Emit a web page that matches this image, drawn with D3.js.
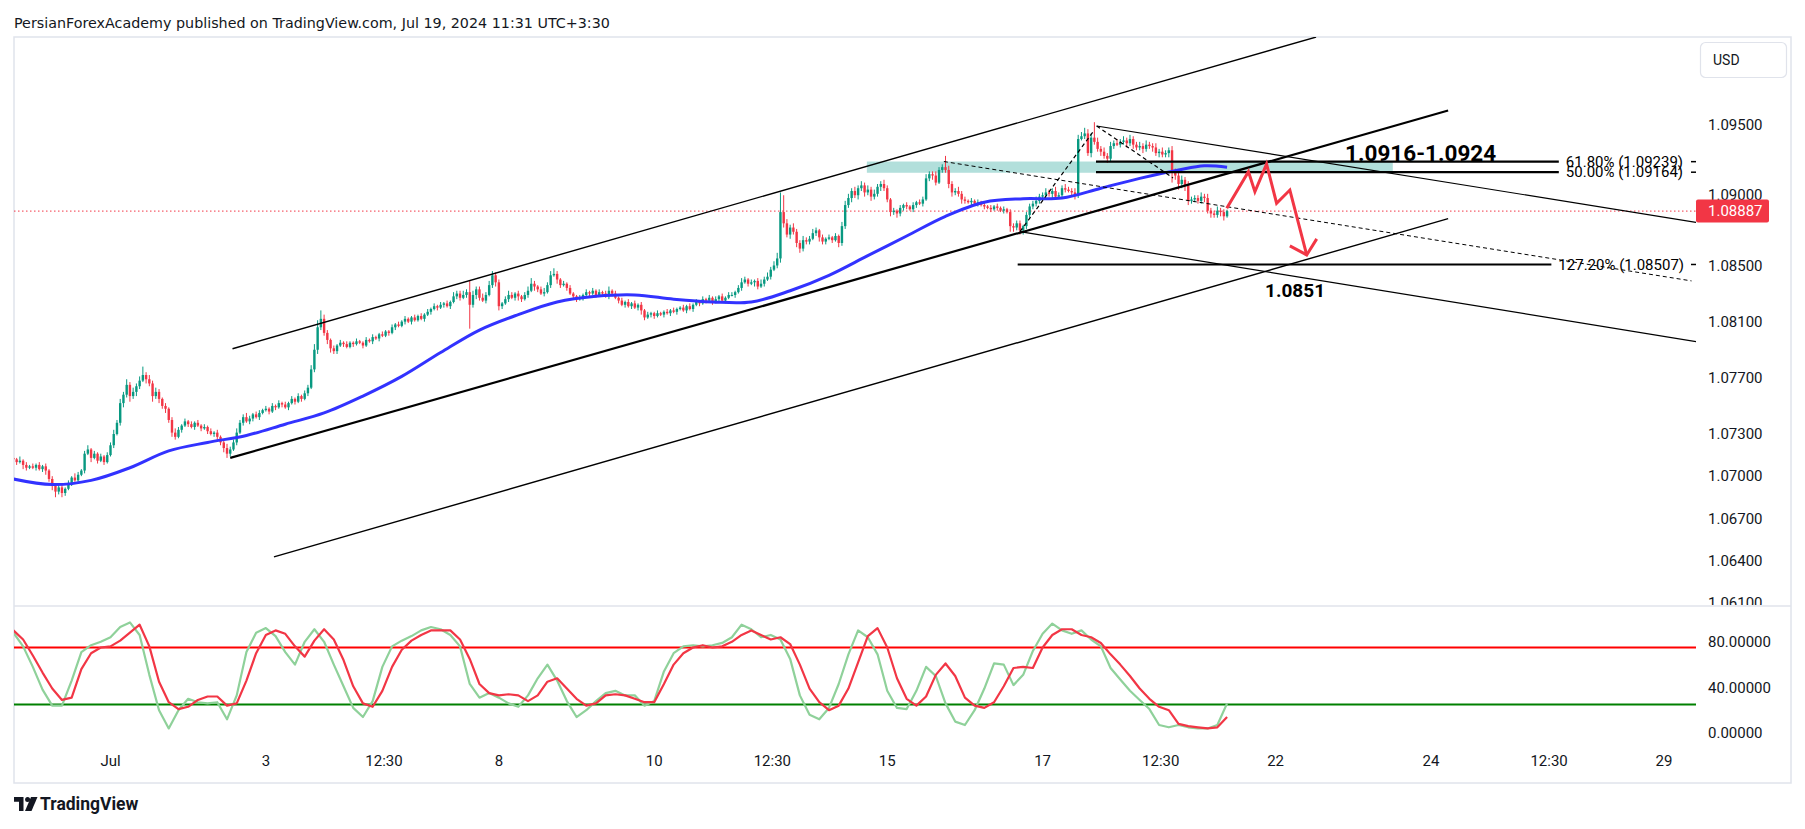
<!DOCTYPE html>
<html>
<head>
<meta charset="utf-8">
<script src="https://cdn.jsdelivr.net/npm/d3@7"></script>
<style>
  body { margin: 0; background: #fff; }
  svg { display: block; }
  text { font-family: Roboto, "Noto Sans", sans-serif; fill: #131722; }
</style>
</head>
<body>
<svg id="chart" width="1805" height="829"></svg>
<script>
// EURUSD 1h, Jun 27 18:00 .. Jul 19 09:00 (hour index 0 = Jul 1 00:00, trading hours only)
// prices in pips above 1.0000
const firstIndex = -30;
const firstOpen = 713;

const closeWeek0 = [
  712,710,711,708,706,707,
  706,708,705,707,704,698,693,689,692,688,691,695,699,697,701,704,716,719,713,716,711,714,710,715
];
const closeWeek1 = [
  722,730,738,752,758,765,757,760,764,768,772,769,766,757,760,755,750,748,740,731,728,733,736,739,
  737,735,738,736,734,735,732,730,731,728,724,720,716,719,724,731,738,742,739,741,744,742,745,747,
  748,746,750,749,752,751,749,752,755,753,757,755,759,763,776,790,806,812,802,797,791,789,793,795,
  794,792,795,794,796,795,793,797,796,799,798,801,800,803,802,806,808,807,810,812,810,813,811,814,
  812,815,817,819,821,820,822,823,821,824,828,830,827,829,831,822,829,833,827,825,829,836,843,838
];
const closeWeek2 = [
  821,823,826,829,827,830,828,826,829,832,837,835,833,830,831,836,843,844,840,836,837,834,830,828,
  826,827,829,831,830,832,829,831,830,828,832,830,827,825,822,824,821,823,820,822,818,813,815,816,
  814,816,815,817,816,818,817,819,820,818,821,819,822,824,823,826,825,827,824,826,828,825,827,829,
  829,831,834,838,840,837,838,839,835,837,840,842,847,850,855,888,880,872,877,874,866,862,868,867,
  869,873,875,870,867,869,870,868,871,866,878,893,898,903,900,905,907,902,904,899,901,906,908,905
];
const closeWeek3 = [
  897,888,889,887,891,893,892,890,893,895,894,897,912,915,914,909,918,920,918,908,902,903,901,897,
  896,895,896,894,895,893,892,891,890,892,891,889,890,888,878,877,880,875,878,886,892,894,896,899,
  900,902,901,903,899,900,905,904,903,902,900,940,942,944,930,941,938,933,931,928,926,935,937,936,
  938,939,937,940,936,934,935,933,936,935,934,930,931,929,930,932,917,914,908,911,907,896,897,898,
  896,899,898,889,887,886,889,888,885,888.7
];

// wick length above / below the body, pips
const wickUpWeek0 = [2,1,3,1,2,1, 2,1,2,1,2,1,2,1,3,2,1,2,1,3,2,1,2,3,1,2,1,2,1,2];
const wickDnWeek0 = [1,2,1,3,2,1, 1,2,1,2,3,2,3,4,2,3,2,1,2,1,2,1,2,1,3,1,2,1,2,1];
const wickUpWeek1 = [
  2,3,2,3,2,4,2,3,2,3,6,2,3,2,3,2,1,2,1,2,3,2,1,2,
  1,2,1,2,1,2,1,2,1,2,1,2,3,2,2,3,2,2,3,2,1,2,2,1,
  2,1,2,1,2,1,2,1,2,1,2,1,2,2,3,4,5,6,3,2,1,2,1,2,
  1,2,1,1,2,1,1,2,1,2,1,1,2,1,1,2,1,2,1,2,1,1,2,1,
  2,1,2,1,2,1,2,1,2,1,3,2,2,3,2,8,3,2,2,3,2,3,3,2
];
const wickDnWeek1 = [
  1,2,1,2,3,2,4,2,3,2,1,3,2,4,2,3,2,3,2,3,2,1,2,1,
  2,1,2,1,2,1,2,1,2,3,2,3,3,2,1,2,1,2,1,2,2,1,2,1,
  1,2,1,2,1,2,1,2,1,2,1,2,1,2,1,2,3,2,2,3,3,2,2,1,
  2,1,1,2,1,1,2,1,1,2,1,2,1,1,2,1,2,1,1,2,1,2,1,1,
  1,2,1,2,1,2,1,2,1,2,1,2,2,1,2,17,2,3,2,1,2,1,2,3
];
const wickUpWeek2 = [
  2,1,2,3,2,1,2,1,2,3,4,2,1,2,3,2,3,4,2,1,2,1,2,1,
  1,2,1,2,1,2,1,2,1,2,3,1,2,1,2,1,2,1,2,1,2,1,2,1,
  1,2,1,1,2,1,2,1,1,2,1,2,1,2,1,2,1,2,1,2,1,2,1,2,
  2,1,2,3,2,1,2,1,2,3,2,3,2,3,4,14,12,3,2,3,2,2,3,2,
  2,3,2,1,2,1,2,1,2,1,3,3,3,2,3,2,3,2,3,2,3,2,2,3
];
const wickDnWeek2 = [
  3,2,1,2,1,2,3,2,1,2,1,3,2,1,2,1,2,1,3,2,1,2,1,2,
  2,1,2,1,2,1,2,1,2,1,2,2,1,2,1,2,1,2,1,2,3,2,1,2,
  2,1,1,2,1,2,1,2,1,1,2,1,2,1,2,1,2,1,2,1,2,1,2,1,
  1,2,1,2,1,2,1,3,2,1,2,1,2,1,2,3,3,2,3,2,3,3,2,2,
  2,1,2,3,2,2,1,2,1,3,2,2,2,3,2,3,2,3,2,3,2,2,3,2
];
const wickUpWeek3 = [
  2,1,2,1,2,1,2,1,2,1,2,2,3,2,2,3,2,2,8,3,2,2,3,2,
  2,1,2,1,2,1,2,1,2,1,2,1,2,1,2,2,2,2,1,2,2,2,3,2,
  2,3,2,2,3,2,2,3,2,2,3,3,3,4,3,3,11,3,2,3,2,3,2,3,
  2,3,2,3,2,2,3,2,3,2,2,3,2,3,2,2,3,2,2,3,2,3,2,2,
  2,3,2,3,2,2,3,2,2,1
];
const wickDnWeek3 = [
  2,3,2,3,2,2,2,1,2,2,1,2,1,2,3,2,1,2,2,3,3,2,2,3,
  2,1,2,1,2,1,2,1,2,1,2,1,2,1,4,3,2,3,3,2,2,2,2,2,
  2,1,2,3,2,1,2,2,1,2,3,2,1,2,2,3,2,2,3,2,3,2,2,1,
  2,2,3,2,3,2,2,3,2,2,3,2,3,2,2,3,8,3,4,3,4,3,2,2,
  2,2,3,2,3,2,2,3,3,1
];

// moving average, read every ~12 bars: [hour index, pips]
const maPoints = [
  [-30,698],[-18,694],[-6,697],[6,706],[18,718],[30,724],[42,729],[54,737],[66,745],[78,757],
  [90,771],[102,788],[114,804],[126,815],[138,824],[150,828],[162,829],[174,826],[186,824],[198,824],
  [210,832],[222,843],[234,857],[246,871],[258,885],[270,895],[282,897.5],[294,898],[306,905],
  [318,912],[330,918],[338,921],[345,920]
];

// stochastic, sampled every 3 bars from hour index -30
const stochStep = 3;
const stochK = [
  88,76,58,38,24,24,46,71,77,80, 84,93,97,86,51,20,4,20,30,27,
  26,27,12,33,71,88,92,85,71,60, 80,91,80,60,41,22,14,28,58,76,
  81,85,90,93,91,86,76,43,31,35, 31,26,23,33,48,60,46,28,14,20,
  28,35,37,33,33,24,28,54,70,76, 77,76,77,79,84,95,91,84,86,82,
  65,33,16,12,22,43,69,90,84,69, 37,22,21,37,58,50,26,10,7,20,
  39,61,60,42,51,72,87,96,90,87, 90,82,76,57,47,37,29,21,7,5,
  7,5,4,4,7,26
];
const stochD = [
  90,82,68,53,39,29,31,56,70,75, 76,81,88,95,76,45,27,21,23,29,
  32,32,24,26,46,70,86,90,87,76, 67,81,91,82,64,41,26,23,37,58,
  73,81,86,90,90,90,82,65,43,35, 33,34,33,28,33,45,48,39,30,24,
  26,33,34,33,30,27,27,43,60,70, 75,77,75,76,80,86,90,86,82,84,
  78,60,39,27,20,24,39,62,85,92, 75,48,30,24,32,51,61,50,31,24,
  22,27,41,57,58,57,75,86,91,91, 86,84,79,69,60,50,39,30,23,20,
  8,6,5,4,5,14
];
const stochLevels = [75, 25];
const stochTicks = [80, 40, 0];

const priceTicks = [1.095, 1.090, 1.085, 1.081, 1.077, 1.073, 1.070, 1.067, 1.064, 1.061];
const timeTickIndex = [0, 48, 84.5, 120, 168, 204.5, 240, 288, 324.5, 360, 408, 444.5, 480];
const timeTickLabels = ['Jul','3','12:30','8','10','12:30','15','17','12:30','22','24','12:30','29'];

// drawings: [hour index, price]
const channelUpper = [[37.7, 1.07907], [372.5, 1.10126]];
const channelMiddle = [[37.0, 1.0713], [413.3, 1.09603]];
const channelLower = [[50.5, 1.06425], [413.3, 1.08833]];
const wedgeTop = [[304.7, 1.09493], [489.9, 1.08807]];
const wedgeBottom = [[281.0, 1.08741], [489.9, 1.07958]];
const dashedLong = [[257.5, 1.0924], [488.5, 1.0839]];
const dashedUp = [[281.0, 1.08741], [303.6, 1.09452]];
const dashedDown = [[304.7, 1.09493], [328.3, 1.09123]];
const zoneBox = { from: 233.7, to: 396.2, low: 1.0916, high: 1.0924 };
const fibPct = ['61.80%', '50.00%', '127.20%'];
const fibPrice = [1.09239, 1.09164, 1.08507];
const fibFrom = [304.5, 304.5, 280.3];
const fibTo = [447.5, 447.5, 445.2];
const projection = [[344.9,1.08907],[351.6,1.09168],[353.6,1.09025],[357.2,1.09222],[360.3,1.08943],[364.4,1.09037],[369.6,1.08575]];
const projectionHead = [[364.4,1.08639],[369.6,1.08575],[372.7,1.08689]];
const zoneLabel = { text: '1.0916-1.0924', at: [404.8, 1.09302], size: 22.5 };
const targetLabel = { text: '1.0851', at: [366.0, 1.08326], size: 19 };
const lastPrice = 1.08887;

// ---------- layout ----------
const plotL = 14, plotR = 1696, mainT = 37, mainB = 606, stochB = 748, frameR = 1791, frameB = 783;
const up = '#089981', down = '#f23645';

const svg = d3.select('#chart');
const x = d3.scaleLinear().domain([0, 480]).range([110.5, 1664]);
const y = d3.scaleLinear().domain([1.067, 1.095]).range([518.3, 125]);
const ys = d3.scaleLinear().domain([0, 100]).range([733, 619]);
const pip = v => 1 + v / 10000;

const closes = [].concat(closeWeek0, closeWeek1, closeWeek2, closeWeek3);
const wUp = [].concat(wickUpWeek0, wickUpWeek1, wickUpWeek2, wickUpWeek3);
const wDn = [].concat(wickDnWeek0, wickDnWeek1, wickDnWeek2, wickDnWeek3);
const candles = closes.map((c, k) => {
  const o = k === 0 ? firstOpen : closes[k - 1];
  return { i: firstIndex + k, o: pip(o), c: pip(c), h: pip(Math.max(o, c) + wUp[k]), l: pip(Math.min(o, c) - wDn[k]) };
});

// header
svg.append('text').attr('x', 14).attr('y', 28)
  .style('font-family', '"DejaVu Sans", sans-serif').style('font-size', '14.3px')
  .text('PersianForexAcademy published on TradingView.com, Jul 19, 2024 11:31 UTC+3:30');

// frame
svg.append('rect').attr('x', plotL).attr('y', mainT).attr('width', frameR - plotL).attr('height', frameB - mainT)
  .attr('fill', 'none').attr('stroke', '#e0e3eb').attr('stroke-width', 1.5);
svg.append('line').attr('x1', plotL).attr('x2', frameR).attr('y1', mainB).attr('y2', mainB)
  .attr('stroke', '#e0e3eb').attr('stroke-width', 1.5);

const defs = svg.append('defs');
defs.append('clipPath').attr('id', 'clipMain').append('rect')
  .attr('x', plotL).attr('y', mainT).attr('width', plotR - plotL).attr('height', mainB - mainT);
defs.append('clipPath').attr('id', 'clipStoch').append('rect')
  .attr('x', plotL).attr('y', mainB).attr('width', plotR - plotL).attr('height', stochB - mainB);
defs.append('clipPath').attr('id', 'clipAxis').append('rect')
  .attr('x', plotR).attr('y', mainT).attr('width', frameR - plotR).attr('height', mainB - mainT - 1);

const main = svg.append('g').attr('clip-path', 'url(#clipMain)');
const pt = d => [x(d[0]), y(d[1])];
const seg = (arr, w, dash) => main.append('line')
  .attr('x1', pt(arr[0])[0]).attr('y1', pt(arr[0])[1]).attr('x2', pt(arr[1])[0]).attr('y2', pt(arr[1])[1])
  .attr('stroke', '#000').attr('stroke-width', w).attr('stroke-dasharray', dash || null);

// zone box
main.append('rect').attr('x', x(zoneBox.from)).attr('width', x(zoneBox.to) - x(zoneBox.from))
  .attr('y', y(zoneBox.high)).attr('height', y(zoneBox.low) - y(zoneBox.high))
  .attr('fill', '#b2dfdb');

// last price line
main.append('line').attr('x1', plotL).attr('x2', plotR).attr('y1', y(lastPrice)).attr('y2', y(lastPrice))
  .attr('stroke', '#f23645').attr('stroke-width', 1).attr('stroke-dasharray', '1.5,2.5');

// candles
const cg = main.append('g');
cg.selectAll('line.w').data(candles).join('line').attr('class', 'w')
  .attr('x1', d => x(d.i)).attr('x2', d => x(d.i)).attr('y1', d => y(d.h)).attr('y2', d => y(d.l))
  .attr('stroke', d => d.c >= d.o ? up : down).attr('stroke-width', 1);
cg.selectAll('rect').data(candles).join('rect')
  .attr('x', d => x(d.i) - 1.2).attr('width', 2.4)
  .attr('y', d => y(Math.max(d.o, d.c))).attr('height', d => Math.max(1, Math.abs(y(d.o) - y(d.c))))
  .attr('fill', d => d.c >= d.o ? up : down);

// moving average
main.append('path').datum(maPoints)
  .attr('d', d3.line().x(d => x(d[0])).y(d => y(pip(d[1]))).curve(d3.curveCatmullRom))
  .attr('fill', 'none').attr('stroke', '#3232ff').attr('stroke-width', 3);

// channel + wedge lines
seg(channelUpper, 1.4);
seg(channelMiddle, 2.2);
seg(channelLower, 1.4);
seg(wedgeTop, 1.2);
seg(wedgeBottom, 1.2);
seg(dashedLong, 1, '4,3');
seg(dashedUp, 1.2, '4,3');
seg(dashedDown, 1.2, '4,3');

// fib levels
fibPrice.forEach((p, k) => {
  main.append('line').attr('x1', x(fibFrom[k])).attr('x2', x(fibTo[k])).attr('y1', y(p)).attr('y2', y(p))
    .attr('stroke', '#000').attr('stroke-width', 2.2);
  main.append('text').attr('x', x(fibTo[k]) + 7).attr('y', y(p)).attr('dy', '0.35em')
    .style('font-size', '15px').style('fill', '#000')
    .text(fibPct[k] + ' (' + p.toFixed(5) + ')');
  main.append('line').attr('x1', plotR - 5).attr('x2', plotR).attr('y1', y(p)).attr('y2', y(p))
    .attr('stroke', '#000').attr('stroke-width', 1.5);
});

// projection arrow
main.append('path').datum(projection)
  .attr('d', d3.line().x(d => x(d[0])).y(d => y(d[1])))
  .attr('fill', 'none').attr('stroke', '#f23645').attr('stroke-width', 3).attr('stroke-linejoin', 'miter');
main.append('path').datum(projectionHead)
  .attr('d', d3.line().x(d => x(d[0])).y(d => y(d[1])))
  .attr('fill', 'none').attr('stroke', '#f23645').attr('stroke-width', 3);

// labels
[zoneLabel, targetLabel].forEach(l => {
  main.append('text').attr('x', x(l.at[0])).attr('y', y(l.at[1])).attr('dy', '0.35em')
    .attr('text-anchor', 'middle').style('font-weight', 'bold').style('font-size', l.size + 'px').style('fill', '#000')
    .text(l.text);
});

// price axis
svg.append('g').attr('clip-path', 'url(#clipAxis)').selectAll('text').data(priceTicks).join('text')
  .attr('x', 1708).attr('y', d => y(d)).attr('dy', '0.35em').style('font-size', '15px')
  .text(d => d.toFixed(5));
svg.append('rect').attr('x', 1696).attr('y', y(lastPrice) - 11.5).attr('width', 73).attr('height', 23)
  .attr('rx', 2).attr('fill', '#f23645');
svg.append('text').attr('x', 1708).attr('y', y(lastPrice)).attr('dy', '0.35em')
  .style('font-size', '15px').style('fill', '#fff').text(lastPrice.toFixed(5));
svg.append('rect').attr('x', 1700.5).attr('y', 42.5).attr('width', 86).attr('height', 35).attr('rx', 5)
  .attr('fill', '#fff').attr('stroke', '#e0e3eb').attr('stroke-width', 1.2);
svg.append('text').attr('x', 1713).attr('y', 60).attr('dy', '0.35em').style('font-size', '14px').text('USD');

// stochastic pane
const sg = svg.append('g').attr('clip-path', 'url(#clipStoch)');
sg.append('line').attr('x1', plotL).attr('x2', plotR).attr('y1', ys(stochLevels[0])).attr('y2', ys(stochLevels[0]))
  .attr('stroke', '#ff0000').attr('stroke-width', 2);
sg.append('line').attr('x1', plotL).attr('x2', plotR).attr('y1', ys(stochLevels[1])).attr('y2', ys(stochLevels[1]))
  .attr('stroke', '#008000').attr('stroke-width', 2);
const stochLine = d3.line().x((d, k) => x(firstIndex + k * stochStep)).y(d => ys(d));
sg.append('path').datum(stochK).attr('d', stochLine).attr('fill', 'none')
  .attr('stroke', '#8fd19a').attr('stroke-width', 2.2).attr('stroke-linejoin', 'round');
sg.append('path').datum(stochD).attr('d', stochLine).attr('fill', 'none')
  .attr('stroke', '#f23645').attr('stroke-width', 2.2).attr('stroke-linejoin', 'round');
svg.append('g').selectAll('text').data(stochTicks).join('text')
  .attr('x', 1708).attr('y', d => ys(d)).attr('dy', '0.35em').style('font-size', '15px')
  .text(d => d.toFixed(5));

// time axis
svg.append('g').selectAll('text').data(timeTickIndex).join('text')
  .attr('x', d => x(d)).attr('y', 761).attr('dy', '0.35em').attr('text-anchor', 'middle')
  .style('font-size', '15px').text((d, k) => timeTickLabels[k]);

// TradingView logo
const logo = svg.append('g').attr('transform', 'translate(14,797)');
logo.append('path').attr('d', 'M0 0 H9.5 V14 H5 V4.7 H0 Z').attr('fill', '#131722');
logo.append('circle').attr('cx', 13.6).attr('cy', 2.5).attr('r', 2.5).attr('fill', '#131722');
logo.append('path').attr('d', 'M17 0 H23.5 L17.5 14 H11 Z').attr('fill', '#131722');
svg.append('text').attr('x', 40).attr('y', 804).attr('dy', '0.35em')
  .style('font-size', '17.5px').style('font-weight', 'bold').text('TradingView');
</script>
</body>
</html>
